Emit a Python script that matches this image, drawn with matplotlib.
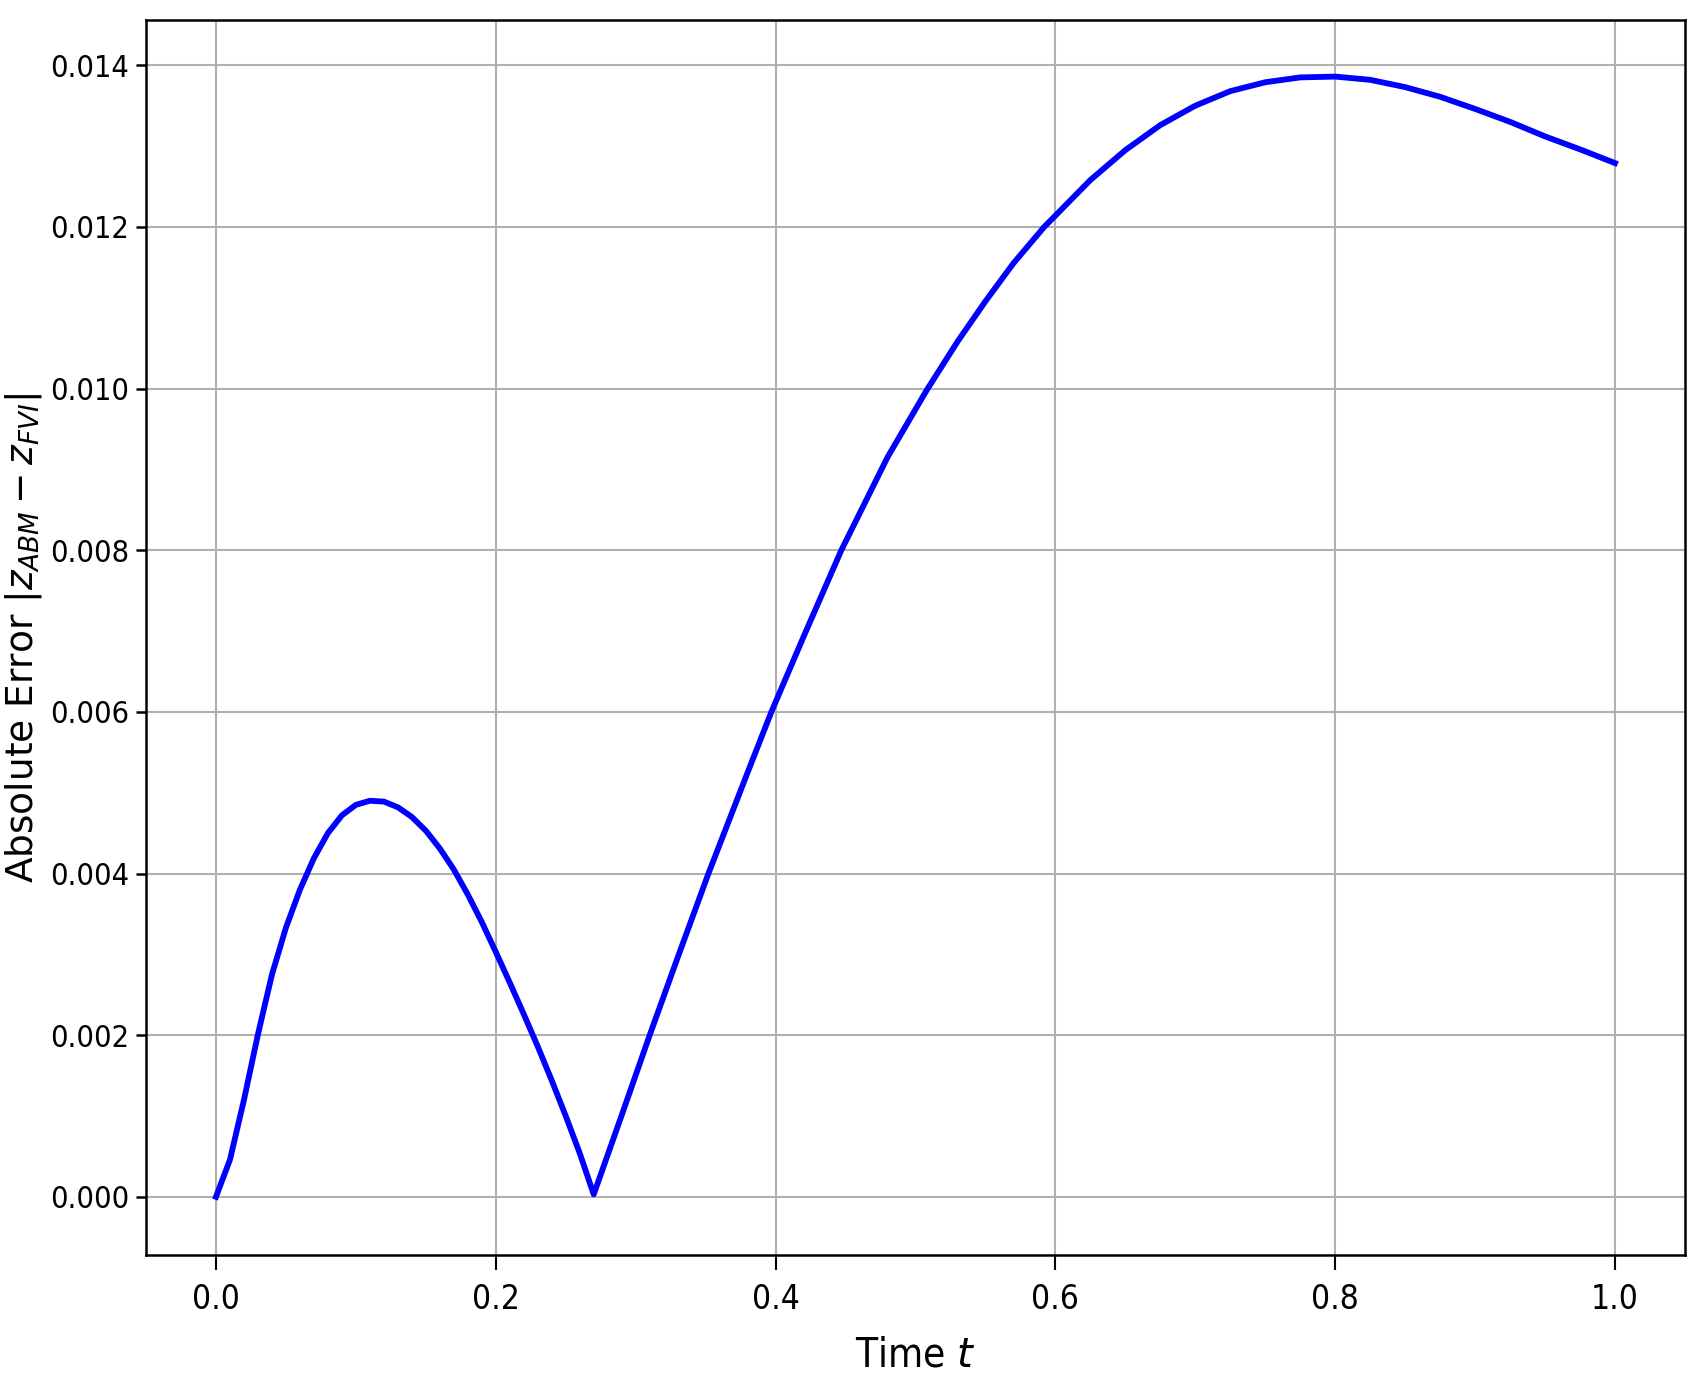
import matplotlib
matplotlib.use("Agg")
import matplotlib.pyplot as plt

# Data
t = [0.0, 0.01, 0.02, 0.03, 0.04, 0.05, 0.06, 0.07, 0.08, 0.09, 0.10, 0.11,
     0.12, 0.13, 0.14, 0.15, 0.16, 0.17, 0.18, 0.19, 0.20, 0.21, 0.22, 0.23,
     0.24, 0.25, 0.26, 0.27, 0.29, 0.31, 0.33, 0.352, 0.38, 0.397, 0.42,
     0.447, 0.48, 0.508, 0.53, 0.55, 0.57, 0.592, 0.6, 0.625, 0.65, 0.675,
     0.70, 0.725, 0.75, 0.775, 0.80, 0.825, 0.85, 0.875, 0.90, 0.925, 0.95,
     0.975, 1.00]
err = [0.0, 0.00046, 0.00120, 0.00201, 0.00275, 0.00333, 0.00380, 0.00419,
       0.00450, 0.00472, 0.00485, 0.00490, 0.00489, 0.00482, 0.00470, 0.00453,
       0.00431, 0.00405, 0.00374, 0.00340, 0.00303, 0.00265, 0.00226, 0.00186,
       0.00144, 0.00100, 0.00054, 0.00003, 0.00101, 0.00200, 0.00296, 0.00400,
       0.00525, 0.00600, 0.00693, 0.00800, 0.00915, 0.00998, 0.01058, 0.01108,
       0.01155, 0.01200, 0.01214, 0.01258, 0.01295, 0.01326, 0.01350, 0.01368,
       0.01379, 0.01385, 0.01386, 0.01382, 0.01373, 0.01361, 0.01346, 0.01330,
       0.01312, 0.01296, 0.01279]

xticks = [0.0, 0.2, 0.4, 0.6, 0.8, 1.0]
yticks = [0.000, 0.002, 0.004, 0.006, 0.008, 0.010, 0.012, 0.014]

fig = plt.figure(figsize=(17.08, 13.90), dpi=100)
ax = fig.add_axes([0.0855, 0.0971, 0.9010, 0.8885])

ax.plot(t, err, color="blue", linewidth=4.2, solid_joinstyle="round")
ax.grid(True, color="#b0b0b0", linewidth=1.5)
ax.set_axisbelow(True)

ax.set_xticks(xticks)
ax.set_yticks(yticks)
ax.set_xlim(-0.05, 1.05)
ax.set_ylim(-0.00072, 0.01456)

for s in ax.spines.values():
    s.set_linewidth(1.8)

ax.tick_params(axis="x", length=11, width=1.5, pad=9, labelsize=24)
ax.tick_params(axis="y", length=7, width=1.8, pad=5, labelsize=22)
for lab in ax.get_xticklabels() + ax.get_yticklabels():
    lab.set_fontstretch("condensed")

ax.set_xlabel("Time $t$", fontsize=29, fontstretch="condensed", labelpad=14)
ax.set_ylabel(r"Absolute Error $|z_{ABM} - z_{FVI}|$", fontsize=27)
ax.yaxis.set_label_coords(-0.066, 0.5)

fig.savefig("out.png", dpi=100)
